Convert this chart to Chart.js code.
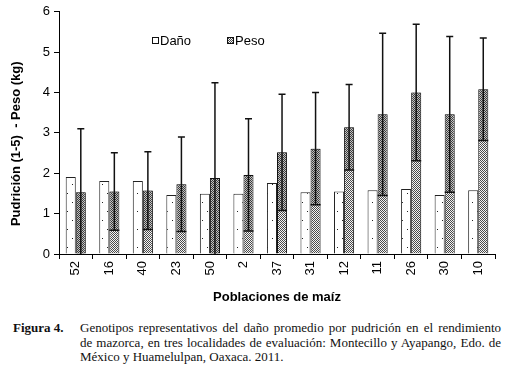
<!DOCTYPE html>
<html>
<head>
<meta charset="utf-8">
<script src="https://cdn.jsdelivr.net/npm/chart.js@4.4.1/dist/chart.umd.min.js"></script>
<style>
  body { margin: 0; background: #fff; width: 508px; height: 371px; overflow: hidden; }
  #wrap { position: relative; width: 508px; height: 310px; }
  #caption { position: absolute; left: 0; top: 321px; width: 508px; font-family: "Liberation Serif", serif; font-size: 13px; line-height: 14.5px; color: #111; }
  #caption .fig { position: absolute; left: 13px; top: 0; font-weight: bold; }
  #caption .txt { position: absolute; left: 80px; width: 421px; }
  #caption .txt div { white-space: nowrap; }
  #caption .txt .j { text-align: justify; text-align-last: justify; white-space: normal; }
</style>
</head>
<body>
<div id="wrap"><canvas id="grafico"></canvas></div>
<div id="caption">
  <span class="fig">Figura 4.</span>
  <div class="txt">
    <div class="j">Genotipos representativos del daño promedio por pudrición en el rendimiento</div>
    <div class="j">de mazorca, en tres localidades de evaluación: Montecillo y Ayapango, Edo. de</div>
    <div>México y Huamelulpan, Oaxaca. 2011.</div>
  </div>
</div>
<script>
const poblaciones = ['52', '16', '40', '23', '50', '2', '37', '31', '12', '11', '26', '30', '10'];
const dano = [1.91, 1.81, 1.81, 1.46, 1.49, 1.49, 1.76, 1.53, 1.55, 1.58, 1.61, 1.46, 1.58];
const peso = [1.53, 1.55, 1.57, 1.73, 1.88, 1.96, 2.52, 2.61, 3.14, 3.46, 4.00, 3.46, 4.08];
const pesoDE = [1.57, 0.96, 0.96, 1.17, 2.36, 1.39, 1.44, 1.39, 1.06, 2.01, 1.69, 1.93, 1.27];
const yTicks = [0, 1, 2, 3, 4, 5, 6];

// patrones de relleno
function patronDano() {
  const c = document.createElement('canvas');
  c.width = 10; c.height = 18;
  const g = c.getContext('2d');
  g.fillStyle = '#fff';
  g.fillRect(0, 0, 10, 18);
  g.fillStyle = '#222';
  g.fillRect(2, 4, 1, 1);
  g.fillRect(7, 13, 1, 1);
  return g.createPattern(c, 'repeat');
}

function patronPeso() {
  const c = document.createElement('canvas');
  c.width = 2; c.height = 2;
  const g = c.getContext('2d');
  g.fillStyle = '#f4f4f4';
  g.fillRect(0, 0, 2, 2);
  g.fillStyle = '#4a4a4a';
  g.fillRect(0, 0, 1, 1);
  g.fillRect(1, 1, 1, 1);
  return g.createPattern(c, 'repeat');
}

const fillDano = patronDano();
const fillPeso = patronPeso();

const errorBars = {
  id: 'errorBars',
  afterDatasetsDraw(chart) {
    const ctx = chart.ctx;
    const y = chart.scales.y;
    const meta = chart.getDatasetMeta(1);
    ctx.save();
    meta.data.forEach((bar, i) => {
      const hi = y.getPixelForValue(peso[i] + pesoDE[i]);
      const low = peso[i] - pesoDE[i];
      const lo = y.getPixelForValue(Math.max(0, low));
      const half = bar.width / 2;
      // zona oscura dentro de la barra
      if (lo > bar.y) {
        ctx.fillStyle = 'rgba(0,0,0,0.2)';
        ctx.fillRect(bar.x - half + 1, bar.y, bar.width - 2, lo - bar.y);
      }
      ctx.strokeStyle = '#111';
      ctx.lineWidth = 1.5;
      ctx.beginPath();
      ctx.moveTo(bar.x, lo);
      ctx.lineTo(bar.x, hi);
      ctx.moveTo(bar.x - 3.5, hi);
      ctx.lineTo(bar.x + 3.5, hi);
      if (low > 0) {
        ctx.moveTo(bar.x - half, lo);
        ctx.lineTo(bar.x + half, lo);
      }
      ctx.stroke();
    });
    ctx.restore();
  }
};

const leyenda = {
  id: 'leyenda',
  afterDraw(chart) {
    const ctx = chart.ctx;
    ctx.save();
    ctx.font = '13px "Liberation Sans", Arial, sans-serif';
    ctx.textBaseline = 'middle';
    const items = [
      { x: 152, text: 'Daño', fill: '#fff' },
      { x: 227, text: 'Peso', fill: fillPeso }
    ];
    items.forEach(it => {
      ctx.fillStyle = it.fill;
      ctx.fillRect(it.x, 37, 6, 6);
      ctx.strokeStyle = '#111';
      ctx.lineWidth = 1;
      ctx.strokeRect(it.x + 0.5, 37.5, 6, 6);
      ctx.fillStyle = '#000';
      ctx.fillText(it.text, it.x + 8, 41);
    });
    ctx.restore();
  }
};

new Chart(document.getElementById('grafico').getContext('2d'), {
  type: 'bar',
  data: {
    labels: poblaciones,
    datasets: [
      {
        label: 'Daño',
        data: dano,
        backgroundColor: fillDano,
        borderColor: '#222',
        borderWidth: 1,
        barPercentage: 1,
        categoryPercentage: 0.6
      },
      {
        label: 'Peso',
        data: peso,
        backgroundColor: fillPeso,
        borderColor: '#111',
        borderWidth: 1,
        barPercentage: 1,
        categoryPercentage: 0.6
      }
    ]
  },
  options: {
    responsive: true,
    maintainAspectRatio: false,
    animation: false,
    layout: { padding: { top: 9, right: 13, left: 0, bottom: 0 } },
    plugins: {
      legend: { display: false },
      tooltip: { enabled: false }
    },
    scales: {
      x: {
        afterFit: s => { s.height = 56; },
        grid: { display: true, drawOnChartArea: false, offset: true, color: '#000', tickLength: 5 },
        border: { color: '#000', width: 1 },
        ticks: {
          minRotation: 90, maxRotation: 90, padding: 2,
          color: '#000',
          font: { family: '"Liberation Sans", Arial, sans-serif', size: 13 }
        },
        title: {
          display: true,
          text: 'Poblaciones de maíz',
          color: '#000',
          padding: { top: 4, bottom: 5 },
          font: { family: '"Liberation Sans", Arial, sans-serif', size: 13, weight: 'bold' }
        }
      },
      y: {
        min: 0,
        max: 6,
        afterFit: s => { s.width = 59; },
        afterBuildTicks: s => { s.ticks = yTicks.map(v => ({ value: v })); },
        grid: { display: true, drawOnChartArea: false, color: '#000', tickLength: 5 },
        border: { color: '#000', width: 1 },
        ticks: {
          padding: 4,
          color: '#000',
          font: { family: '"Liberation Sans", Arial, sans-serif', size: 13 }
        },
        title: {
          display: true,
          text: 'Pudrición (1-5)  - Peso (kg)      ',
          color: '#000',
          padding: { top: 9, bottom: 4 },
          font: { family: '"Liberation Sans", Arial, sans-serif', size: 13, weight: 'bold' }
        }
      }
    }
  },
  plugins: [errorBars, leyenda]
});
</script>
</body>
</html>
